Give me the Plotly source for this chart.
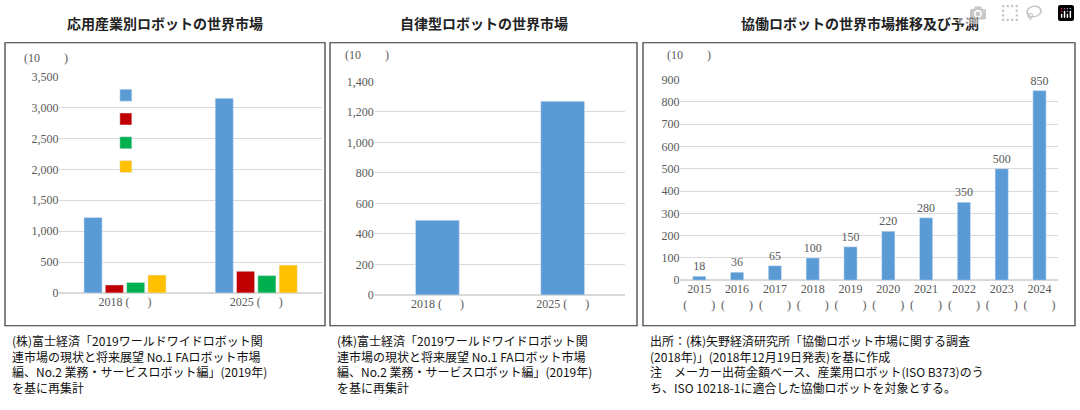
import plotly.graph_objects as go

cat1 = ["2018 (      )", "2025 (      )"]
s1_blue = [1220, 3150]
s1_red = [130, 350]
s1_green = [170, 280]
s1_yellow = [290, 450]

cat2 = ["2018 (      )", "2025 (      )"]
s2 = [490, 1270]

years3 = ["2015", "2016", "2017", "2018", "2019", "2020", "2021", "2022", "2023", "2024"]
s3 = [18, 36, 65, 100, 150, 220, 280, 350, 500, 850]
cat3 = [y + "<br>(        )" for y in years3]

BLUE, RED, GREEN, YEL = "#5B9BD5", "#C00000", "#00B050", "#FFC000"
TF = dict(family="Liberation Serif", size=12, color="#595959")
JP = "Noto Sans CJK JP"

fig = go.Figure()
for name, vals, c in [(" ", s1_blue, BLUE), ("  ", s1_red, RED), ("   ", s1_green, GREEN), ("    ", s1_yellow, YEL)]:
    fig.add_bar(x=cat1, y=vals, marker_color=c, name=name, xaxis="x", yaxis="y", showlegend=True)
fig.add_bar(x=cat2, y=s2, marker_color=BLUE, width=0.35, xaxis="x2", yaxis="y2", showlegend=False)
fig.add_bar(x=cat3, y=s3, marker_color=BLUE, width=0.35, text=[str(v) for v in s3], textposition="outside",
            textfont=TF, constraintext="none", cliponaxis=False, xaxis="x3", yaxis="y3", showlegend=False)

ax = dict(showline=False, ticks="", tickfont=TF, gridcolor="#D9D9D9", zeroline=True, zerolinecolor="#D9D9D9", fixedrange=True)
fig.update_layout(
    width=1080, height=410, margin=dict(l=0, r=0, t=0, b=0),
    plot_bgcolor="white", paper_bgcolor="white", barmode="group", bargap=0.35, bargroupgap=0.15,
    xaxis=dict(domain=[0.055, 0.298], tickfont=TF, showgrid=False, fixedrange=True),
    yaxis=dict(domain=[0.278, 0.824], range=[0, 3500], dtick=500, tickformat=",", **ax),
    xaxis2=dict(domain=[0.347, 0.579], tickfont=TF, showgrid=False, fixedrange=True, anchor="y2"),
    yaxis2=dict(domain=[0.273, 0.812], range=[0, 1400], dtick=200, tickformat=",", anchor="x2", **ax),
    xaxis3=dict(domain=[0.63, 0.98], tickfont=TF, showgrid=False, fixedrange=True, anchor="y3", tickangle=0),
    yaxis3=dict(domain=[0.31, 0.817], range=[0, 900], dtick=100, anchor="x3", **ax),
    legend=dict(x=0.098, y=0.82, xanchor="left", yanchor="top", bgcolor="rgba(0,0,0,0)",
                font=dict(size=16), itemwidth=30, tracegroupgap=8),
    font=dict(family=JP),
)

for x0, x1 in [(5, 325), (330, 637), (643, 1075)]:
    fig.add_shape(type="rect", xref="paper", yref="paper", x0=x0/1080, x1=x1/1080, y0=1-330/410, y1=1-37/410,
                  line=dict(color="#333", width=1.2))

titles = [(165, "応用産業別ロボットの世界市場"), (484, "自律型ロボットの世界市場"), (860, "協働ロボットの世界市場推移及び予測")]
for x, t in titles:
    fig.add_annotation(x=x/1080, y=1-17/410, xref="paper", yref="paper", text="<b>"+t+"</b>", showarrow=False,
                       xanchor="center", yanchor="middle", font=dict(family=JP, size=14, color="#222"))
for x, y in [(22, 53), (343, 50), (665, 50)]:
    fig.add_annotation(x=x/1080, y=1-y/410, xref="paper", yref="paper", text="(10        )", showarrow=False,
                       xanchor="left", yanchor="middle", font=TF)

cap = dict(showarrow=False, xref="paper", yref="paper", xanchor="left", yanchor="top", align="left",
           font=dict(family=JP, size=12, color="#111"))
fig.add_annotation(x=10/1080, y=1-334/410, text="(株)富士経済「2019ワールドワイドロボット関<br>連市場の現状と将来展望 No.1 FAロボット市場<br>編、No.2 業務・サービスロボット編」(2019年)<br>を基に再集計", **cap)
fig.add_annotation(x=335/1080, y=1-334/410, text="(株)富士経済「2019ワールドワイドロボット関<br>連市場の現状と将来展望 No.1 FAロボット市場<br>編、No.2 業務・サービスロボット編」(2019年)<br>を基に再集計", **cap)
fig.add_annotation(x=648/1080, y=1-334/410, text="出所：(株)矢野経済研究所「協働ロボット市場に関する調査<br>(2018年)」(2018年12月19日発表)を基に作成<br>注　メーカー出荷金額ベース、産業用ロボット(ISO B373)のう<br>ち、ISO 10218-1に適合した協働ロボットを対象とする。", **cap)

fig.write_html("out.html", post_script="document.body.style.margin='0';document.body.style.overflow='hidden';")
